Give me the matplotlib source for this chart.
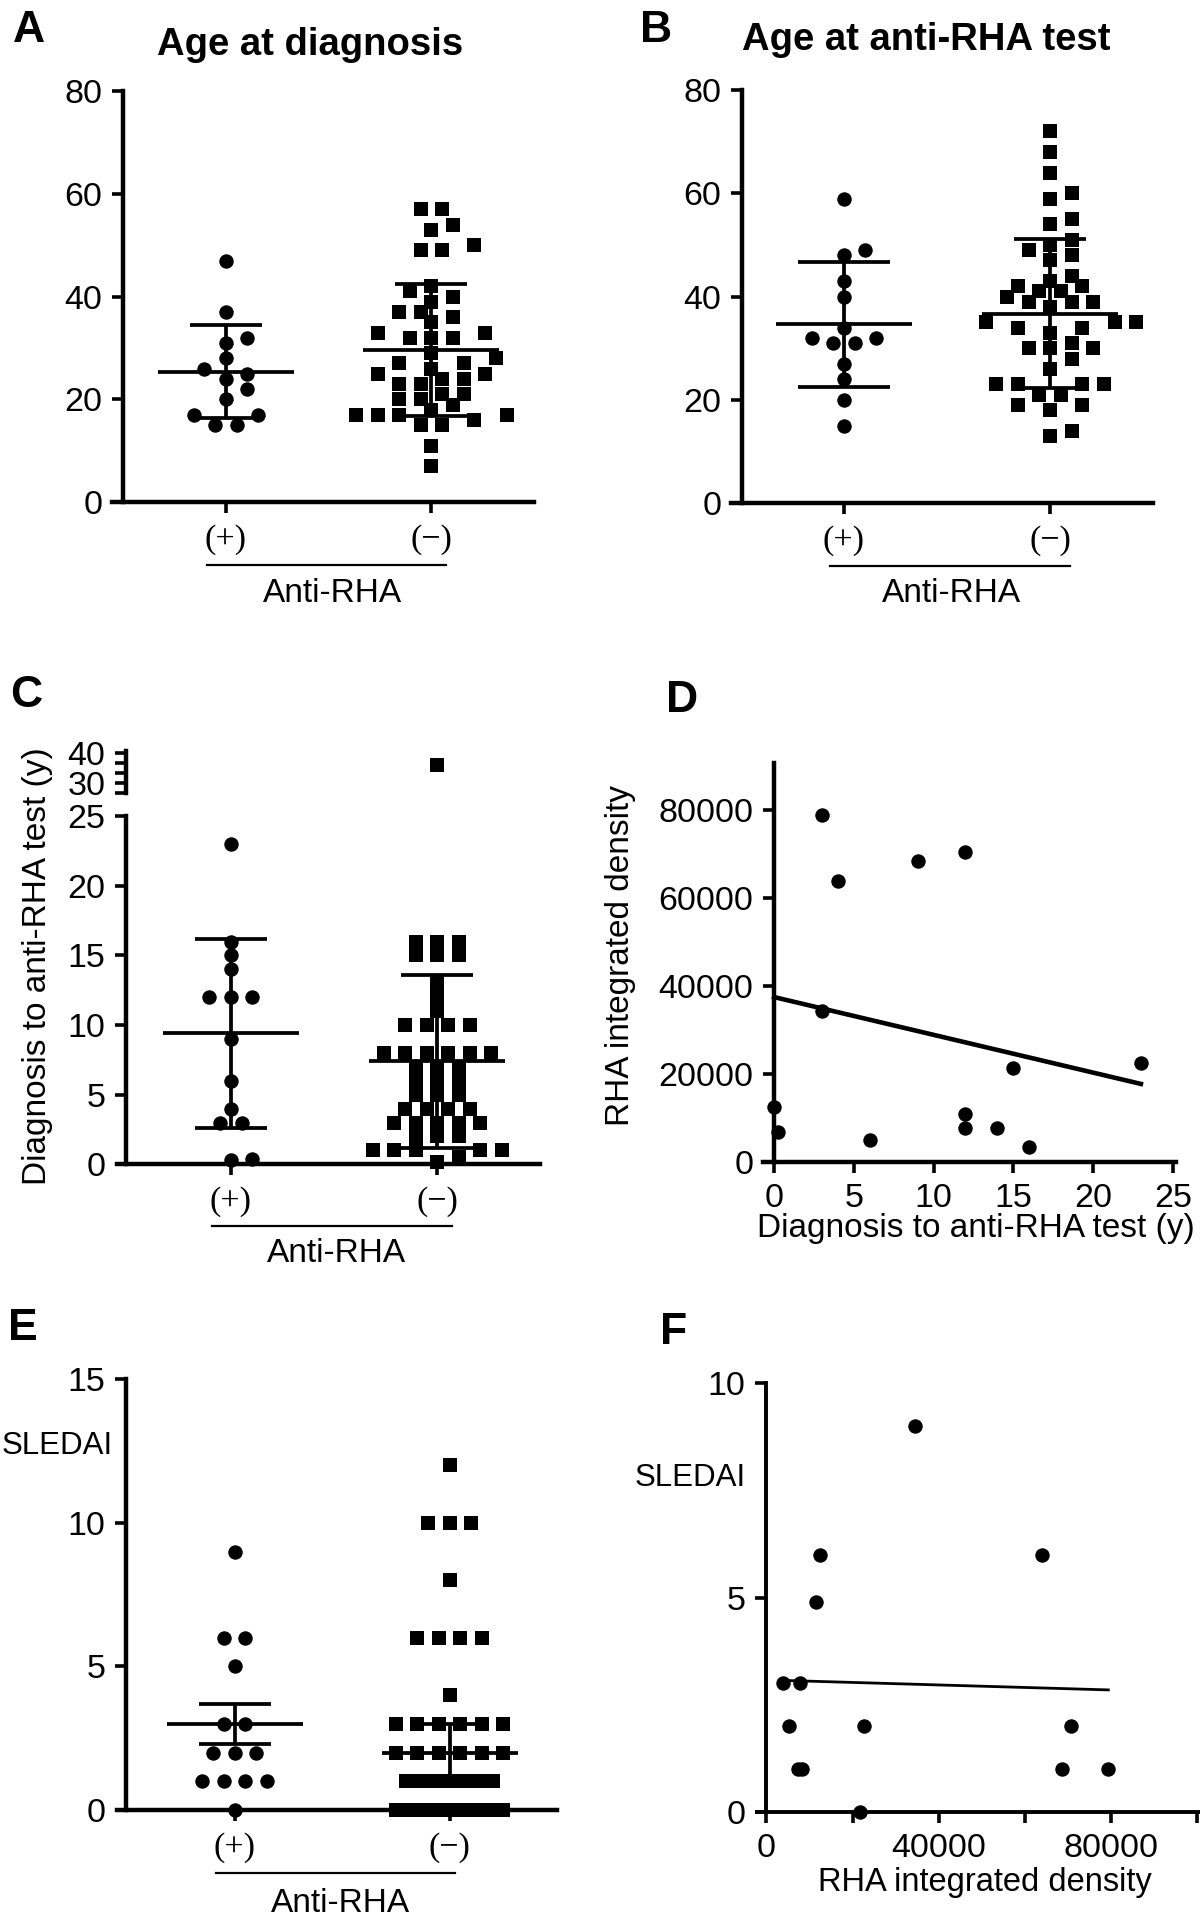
import numpy as np
import matplotlib
matplotlib.use('Agg')
import matplotlib.pyplot as plt
from matplotlib.lines import Line2D

plt.rcParams['font.family'] = ['Liberation Sans', 'DejaVu Sans']

W, H = 1200, 1920

# ---------------- data ----------------
groups = ['(+)', '(\u2212)']

# A: age at diagnosis
a_pos = [47, 37, 32, 31, 28, 26, 25, 24, 22, 20, 17, 17, 15, 15]
a_neg = [57, 57, 54, 53, 50, 49, 49, 42, 41, 40, 39, 37, 37, 36, 35, 33, 33,
         32, 32, 32, 29, 28, 27, 27, 26, 25, 25, 24, 24, 23, 23, 21, 21, 20,
         20, 19, 18, 17, 17, 17, 17, 16, 15, 15, 11, 7]
a_mean = [25.4, 29.6]
a_sd = [9.1, 12.9]

# B: age at anti-RHA test
b_pos = [59, 49, 48, 43, 40, 34, 32, 32, 31, 31, 27, 24, 20, 15]
b_neg = [72, 68, 64, 60, 59, 55, 54, 51, 50, 49, 48, 47, 44, 43, 42, 42, 41,
         41, 40, 39, 39, 39, 38, 35, 35, 35, 34, 34, 33, 31, 30, 30, 30, 28,
         26, 23, 23, 23, 23, 21, 21, 19, 19, 18, 14, 13]
b_mean = [34.6, 36.7]
b_sd = [12.1, 14.4]

# C: diagnosis to anti-RHA test (y)
c_pos = [23, 16, 15, 14, 12, 12, 12, 9, 6, 4, 3, 3, 0.4, 0.3]
c_neg = [36, 16, 16, 16, 15, 15, 15, 13, 12, 11, 10, 10, 10, 10, 8, 8, 8, 8,
         8, 8, 7, 7, 7, 6, 6, 6, 5, 5, 5, 4, 4, 4, 4, 3, 3, 3, 3, 3, 2, 2, 2,
         1, 1, 1, 1, 1, 0.5, 0.2]
c_mean = [9.4, 7.4]
c_sd = [6.8, 6.2]

# D: RHA integrated density vs diagnosis-to-test time
d_years = [3, 4, 9, 12, 3, 15, 23, 0, 0.25, 6, 12, 12, 14, 16]
d_rha = [79000, 64000, 68500, 70500, 34500, 21500, 22500, 12500, 7000, 5000,
         11000, 7700, 7700, 3500]

# E: SLEDAI
e_pos = [9, 6, 6, 5, 3, 3, 2, 2, 2, 1, 1, 1, 1, 0]
e_neg_vals = [12, 10, 8, 6, 4, 3, 2, 1, 0]
e_neg_counts = [1, 3, 1, 4, 1, 6, 6, 18, 22]
e_mean = [3.0, 2.0]
e_sem = [0.7, 1.0]

# F: SLEDAI vs RHA integrated density
f_rha = [34500, 12500, 64000, 11500, 3800, 7700, 5300, 22700, 70800, 7400,
         8200, 68700, 79400, 21800]
f_sledai = [9, 6, 6, 4.9, 3, 3, 2, 2, 2, 1, 1, 1, 1, 0]

MS = 10.4      # marker size (pt)
LW_ERR = 2.7   # error bar / mean line width
LW_AX = 3.2    # axis line width

# ---------------- helpers ----------------
fig = plt.figure(figsize=(W / 100, H / 100), dpi=100)


def px_axes(left, right, top, bottom):
    return fig.add_axes([left / W, 1 - bottom / H, (right - left) / W, (bottom - top) / H])


def ftext(x, y, s, **kw):
    fig.text(x / W, 1 - y / H, s, ha=kw.pop('ha', 'center'), va=kw.pop('va', 'center'), **kw)


def fline(x1, x2, y, lw=1.6):
    fig.add_artist(Line2D([x1 / W, x2 / W], [1 - y / H, 1 - y / H], lw=lw, color='black'))


def swarm(vals, ppu, d=14.4, step=21.5, cmax=8, cstep=5.1):
    # GraphPad-like scatter: equal values spread symmetrically, avoid overlap
    vals = np.asarray(vals, float)
    off = np.zeros(len(vals))
    placed = []
    h = step / 2
    thr = 0.9 * d
    for v in np.unique(vals):
        idx = np.where(vals == v)[0]
        k = len(idx)
        y = v * ppu
        if k > cmax:
            xs = list((np.arange(k) - (k - 1) / 2) * cstep)
        else:
            first = [0.0] if k % 2 else []
            par = 0 if k % 2 else 1
            cands = first + [s * j * h for j in range(1, 40) if j % 2 == par for s in (1, -1)]
            cands += [s * j * h for j in range(0, 40) if j % 2 != par for s in (1, -1)]
            xs = []
            for c in cands:
                if len(xs) == k:
                    break
                pts = placed + [(x, y) for x in xs]
                if all((c - px) ** 2 + (y - py) ** 2 >= thr ** 2 for px, py in pts):
                    xs.append(c)
        placed += [(x, y) for x in xs]
        off[idx] = xs
    return off


def style(ax, fs=24.5, pad=7):
    for s in ['top', 'right']:
        ax.spines[s].set_visible(False)
    for s in ['left', 'bottom']:
        ax.spines[s].set_linewidth(LW_AX)
        ax.spines[s].set_capstyle('projecting')
    ax.tick_params(direction='out', length=8, width=2.6, labelsize=fs, pad=pad, colors='black')


def group_panel(box, yaxis_x, cx, ylim, yticks, pos, neg, mean, err, caps=(36, 36)):
    left, right, top, bottom = box
    ax = px_axes(left, right, top, bottom)
    unit = cx[1] - cx[0]
    ax.set_xlim(1 - (cx[0] - left) / unit, 2 + (right - cx[1]) / unit)
    ax.set_ylim(*ylim)
    ax.spines['left'].set_position(('axes', (yaxis_x - left) / (right - left)))
    ppu = (bottom - top) / (ylim[1] - ylim[0])
    for i, (vals, mk) in enumerate([(pos, 'o'), (neg, 's')]):
        vals = np.asarray(vals, float)
        off = swarm(vals, ppu) / unit
        keep = vals <= ylim[1]
        ax.plot(1 + i + off[keep], vals[keep], ls='none', marker=mk,
                ms=MS if mk == 'o' else MS * 0.95, mew=0,
                color='black', clip_on=False, zorder=3)
        m, e = mean[i], err[i]
        ax.hlines(m, 1 + i - 68 / unit, 1 + i + 68 / unit, lw=LW_ERR, color='black', zorder=4)
        ax.vlines(1 + i, m - e, m + e, lw=LW_ERR, color='black', zorder=4)
        ax.hlines([m - e, m + e], 1 + i - caps[i] / unit, 1 + i + caps[i] / unit,
                  lw=LW_ERR, color='black', zorder=4)
    ax.set_xticks([1, 2])
    ax.set_xticklabels(groups, fontfamily='Liberation Serif', fontsize=26.5)
    ax.set_yticks(yticks)
    style(ax)
    ax.tick_params(axis='x', pad=8)
    return ax, unit, ppu


def anti_rha(x1, x2, yl, xt, yt):
    fline(x1, x2, yl)
    ftext(xt, yt, 'Anti-RHA', fontsize=24)


def panel_letter(x, y, s):
    ftext(x, y, s, fontsize=32, fontweight='bold')


# ---------------- A ----------------
group_panel((111.7, 533.9, 91, 502.2), 123.2, (225.8, 431.3), (0, 80), [0, 20, 40, 60, 80],
            a_pos, a_neg, a_mean, a_sd)
ftext(310, 45, 'Age at diagnosis', fontsize=27.5, fontweight='bold')
panel_letter(29, 31, 'A')
anti_rha(206.7, 445.8, 565.4, 332.2, 594)

# ---------------- B ----------------
group_panel((730.9, 1153, 90.2, 503), 742.4, (843.8, 1050), (0, 80), [0, 20, 40, 60, 80],
            b_pos, b_neg, b_mean, b_sd, caps=(46, 36))
ftext(926, 40, 'Age at anti-RHA test', fontsize=27.5, fontweight='bold')
panel_letter(656.5, 30, 'B')
anti_rha(829.6, 1070, 566, 952, 594)

# ---------------- C (broken axis) ----------------
c_box = (116.7, 539.6, 816.3, 1164.3)
axc, c_unit, c_ppu = group_panel(c_box, 126.3, (230.8, 437.4), (0, 25), [0, 5, 10, 15, 20, 25],
                                 c_pos, c_neg, c_mean, c_sd)
axu = px_axes(c_box[0], c_box[1], 751, 793.4)
axu.set_xlim(axc.get_xlim())
axu.set_ylim(26.4, 40.7)
axu.spines['left'].set_position(('axes', (126.3 - c_box[0]) / (c_box[1] - c_box[0])))
style(axu)
axu.spines['bottom'].set_visible(False)
axu.set_xticks([])
axu.set_yticks([26.67, 30, 33.33, 36.67, 40])
axu.set_yticklabels(['', '30', '', '', '40'])
c_neg_arr = np.asarray(c_neg, float)
c_off = swarm(c_neg_arr, c_ppu) / c_unit
high = c_neg_arr > 25
axu.plot(2 + c_off[high], c_neg_arr[high], ls='none', marker='s', ms=MS * 0.95, mew=0,
         color='black', clip_on=False, zorder=3)
ftext(38, 966, 'Diagnosis to anti-RHA test (y)', fontsize=24, rotation=90)
panel_letter(26, 695, 'C')
anti_rha(212.4, 451.6, 1225.5, 336.8, 1254)

# ---------------- D ----------------
axd = px_axes(762.6, 1176, 762.9, 1162.3)
axd.set_xlim(-0.72, 25.2)
axd.set_ylim(0, 90800)
axd.spines['left'].set_position(('data', 0))
axd.plot(d_years, d_rha, ls='none', marker='o', ms=MS, mew=0, color='black',
         clip_on=False, zorder=3)
coef = np.polyfit(d_years, d_rha, 1)
xs = np.array([min(d_years), max(d_years)])
axd.plot(xs, np.polyval(coef, xs), color='black', lw=3.3, zorder=2)
axd.set_xticks([0, 5, 10, 15, 20, 25])
axd.set_yticks([0, 20000, 40000, 60000, 80000])
style(axd)
axd.tick_params(axis='x', pad=7)
ftext(976, 1228, 'Diagnosis to anti-RHA test (y)', fontsize=24)
ftext(621, 955, 'RHA integrated density', fontsize=24, rotation=90)
panel_letter(682, 701, 'D')

# ---------------- E ----------------
e_neg = np.repeat(e_neg_vals, e_neg_counts)
group_panel((116.7, 556.8, 1379.1, 1810.1), 126.3, (234.6, 449.7), (0, 15), [0, 5, 10, 15],
            e_pos, e_neg, e_mean, e_sem)
ftext(57, 1446, 'SLEDAI', fontsize=22.5)
panel_letter(23, 1328, 'E')
anti_rha(216.2, 455.4, 1873.3, 340.6, 1904)

# ---------------- F ----------------
axf = px_axes(756.9, 1200, 1383, 1812.1)
axf.set_xlim(-2230, 100700)
axf.set_ylim(0, 10)
axf.spines['left'].set_position(('data', 0))
axf.plot(f_rha, f_sledai, ls='none', marker='o', ms=MS, mew=0, color='black',
         clip_on=False, zorder=3)
coef_f = np.polyfit(f_rha, f_sledai, 1)
xf = np.array([min(f_rha), max(f_rha)])
axf.plot(xf, np.polyval(coef_f, xf), color='black', lw=2.0, zorder=2)
axf.set_xticks([0, 20000, 40000, 60000, 80000, 100000])
axf.set_xticklabels(['0', '', '40000', '', '80000', ''])
axf.set_yticks([0, 5, 10])
style(axf)
axf.spines['left'].set_linewidth(2.8)
axf.spines['bottom'].set_linewidth(2.8)
ftext(985, 1882, 'RHA integrated density', fontsize=23.5)
ftext(690, 1478, 'SLEDAI', fontsize=22.5)
panel_letter(674, 1332, 'F')

fig.savefig('out.png', dpi=100)
